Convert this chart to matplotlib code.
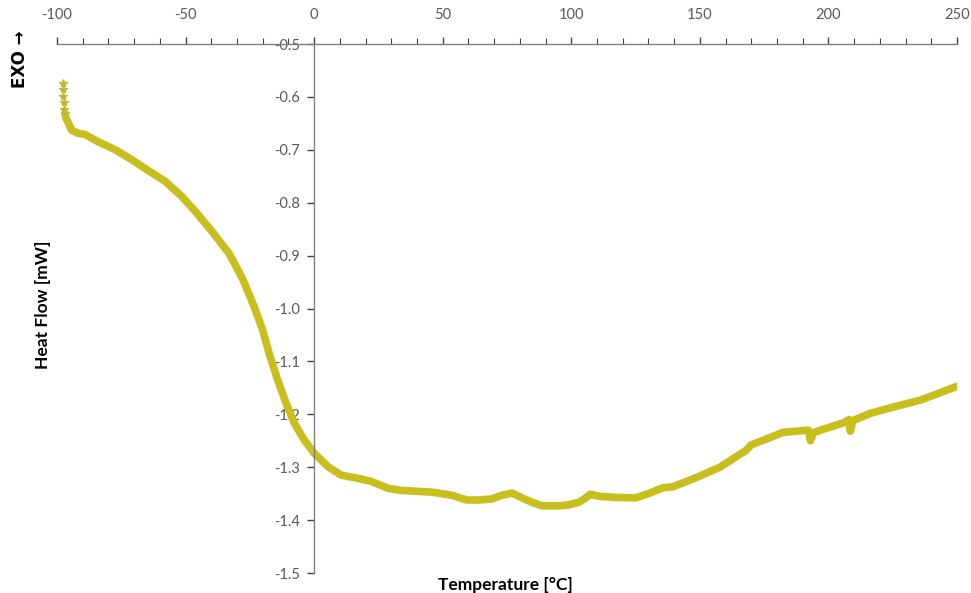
import matplotlib
matplotlib.use("Agg")
import matplotlib.pyplot as plt
from matplotlib.ticker import MultipleLocator, FormatStrFormatter

temperature = [-97.8, -97.8, -97.8, -97.3, -97.3, -96.9, -96.5, -94.3, -91.7,
               -89.1, -83.9, -77.3, -70.8, -64.3, -57.8, -51.3, -46.1, -39.6,
               -33.1, -27.9, -23.3, -20.0, -17.5, -14.2, -10.9, -7.7, -3.8,
               0.1, 5.4, 10.5, 17.1, 22.3, 28.8, 34.0, 45.7, 53.5, 59.4, 64.0,
               69.1, 73.0, 77.0, 80.9, 84.5, 88.7, 95.3, 99.0, 103.1, 105.0,
               107.4, 110.9, 117.0, 125.0, 130.0, 135.5, 139.5, 148.4, 157.8,
               168.0, 169.9, 182.4, 192.2, 193.0, 194.1, 196.9, 205.9, 208.0,
               208.5, 209.5, 216.4, 225.4, 235.9, 250.0]
heat_flow = [-0.573, -0.586, -0.598, -0.610, -0.622, -0.631, -0.640, -0.663,
             -0.669, -0.671, -0.685, -0.700, -0.719, -0.740, -0.760, -0.789,
             -0.817, -0.855, -0.896, -0.943, -0.997, -1.041, -1.085, -1.135,
             -1.179, -1.217, -1.249, -1.274, -1.299, -1.315, -1.321, -1.327,
             -1.340, -1.344, -1.347, -1.353, -1.362, -1.362, -1.360, -1.353,
             -1.349, -1.358, -1.366, -1.373, -1.373, -1.371, -1.366, -1.360,
             -1.351, -1.355, -1.357, -1.358, -1.350, -1.339, -1.337, -1.320,
             -1.300, -1.268, -1.258, -1.234, -1.230, -1.250, -1.235, -1.230,
             -1.216, -1.210, -1.232, -1.212, -1.198, -1.186, -1.173, -1.147]
n_sparse = 6  # first readings are drawn as single markers

curve_color = "#C8BE1E"
tick_color = "#595959"

plt.rcParams["font.family"] = ["Lato", "DejaVu Sans"]
plt.rcParams["axes.unicode_minus"] = False

fig = plt.figure(figsize=(9.71, 5.93), dpi=100)
ax = fig.add_axes([0.0587, 0.0337, 0.9269, 0.8921])

ax.plot(temperature[n_sparse - 1:], heat_flow[n_sparse - 1:], color=curve_color,
        lw=5.5, solid_capstyle="round", solid_joinstyle="round")
ax.plot(temperature[:n_sparse], heat_flow[:n_sparse], ls="none", marker="*",
        ms=6, mfc="#A8A8A0", mec=curve_color, mew=1)

ax.set_xlim(-100, 250)
ax.set_ylim(-1.5, -0.5)

# axes cross like the Excel chart: y axis at 0, x axis along the top
ax.spines["left"].set_position(("data", 0))
ax.spines["bottom"].set_visible(False)
ax.spines["right"].set_visible(False)
for s in ("left", "top"):
    ax.spines[s].set_color("#808080")
    ax.spines[s].set_linewidth(1)

ax.xaxis.set_major_locator(MultipleLocator(50))
ax.xaxis.set_minor_locator(MultipleLocator(10))
ax.yaxis.set_major_locator(MultipleLocator(0.1))
ax.yaxis.set_major_formatter(FormatStrFormatter("%.1f"))
ax.xaxis.set_ticks_position("top")
ax.tick_params(axis="x", which="major", direction="out", length=5, width=1,
               color="#404040", pad=11, labelsize=10.5, labelcolor=tick_color)
ax.tick_params(axis="x", which="minor", direction="out", length=4, width=0.8,
               color="#404040")
ax.tick_params(axis="y", which="major", direction="out", length=5, width=1,
               color="#404040", pad=5, labelsize=10.5, labelcolor=tick_color)

fig.text(0.044, 0.486, "Heat Flow [mW]", rotation=90, ha="center",
         va="center", fontsize=12.5, fontweight="bold")
fig.text(0.52, 0.014, "Temperature [°C]", ha="center", va="center",
         fontsize=12.5, fontweight="bold")
fig.text(0.021, 0.9, "EXO \u2192", rotation=90, ha="center", va="center",
         fontsize=12, fontweight="bold", family=["DejaVu Sans"])

fig.savefig("out.png", dpi=100)
